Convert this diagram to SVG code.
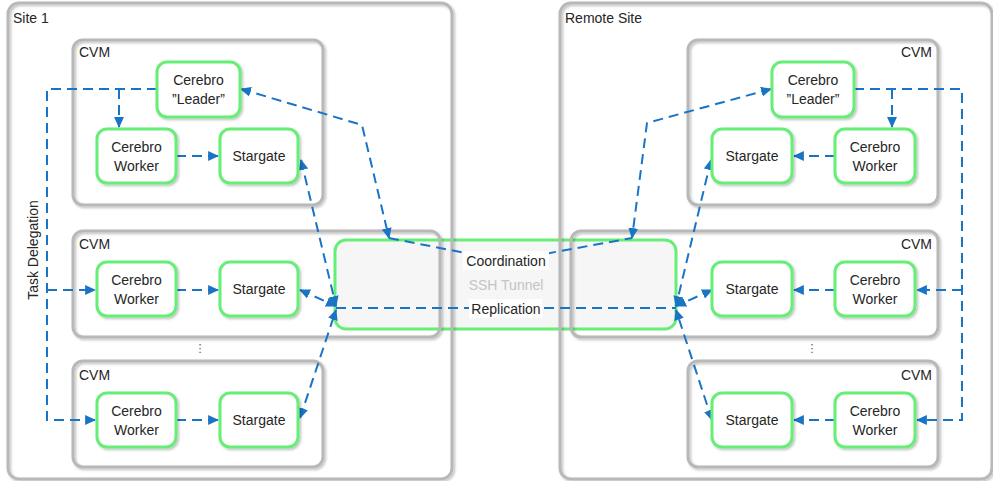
<svg xmlns="http://www.w3.org/2000/svg" width="993" height="481" viewBox="0 0 993 481">
<style>
text{font-family:"Liberation Sans",Arial,sans-serif;font-size:14px;fill:#262626}
.site{fill:none;stroke:#b8b8b8;stroke-width:3}
.cvm{fill:none;stroke:#b8b8b8;stroke-width:3}
.node{fill:#fff;stroke:#66ee77;stroke-width:3}
.tun{fill:#f6f6f6;stroke:#66ee77;stroke-width:3}
.c{fill:none;stroke:#1a74c6;stroke-width:2;stroke-dasharray:10 6}
.m{text-anchor:middle}
.e{text-anchor:end}
</style>
<defs>
<marker id="ah" viewBox="0 0 10 10" refX="9" refY="5" markerWidth="11" markerHeight="11" markerUnits="userSpaceOnUse" orient="auto-start-reverse">
<path d="M0,0.5 L10,5 L0,9.5 Z" fill="#1a74c6"/>
</marker>
<filter id="sh" x="-10%" y="-10%" width="120%" height="120%">
<feDropShadow dx="1.5" dy="1.5" stdDeviation="1" flood-color="#000" flood-opacity="0.25"/>
</filter>
</defs>
<rect width="993" height="481" fill="#fff"/>

<g id="tunnel">
<rect class="tun" x="335" y="240" width="341" height="89" rx="11"/>
</g>

<g id="site1">
<rect class="site" x="8" y="3" width="444" height="476" rx="11" filter="url(#sh)"/>
<text x="13" y="23">Site 1</text>
</g>
<g id="remote-site">
<rect class="site" x="560" y="3" width="432" height="476" rx="11" filter="url(#sh)"/>
<text x="565" y="23">Remote Site</text>
</g>

<g id="cvm-s1-1"><rect class="cvm" x="73" y="40" width="250" height="165" rx="10" filter="url(#sh)"/><text x="79" y="57">CVM</text></g>
<g id="cvm-s1-2"><rect class="cvm" x="73" y="231" width="367" height="106" rx="10" filter="url(#sh)"/><text x="79" y="249">CVM</text></g>
<g id="cvm-s1-3"><rect class="cvm" x="73" y="361" width="250" height="106" rx="10" filter="url(#sh)"/><text x="79" y="380">CVM</text></g>
<g id="cvm-r-1"><rect class="cvm" x="688" y="40" width="250" height="165" rx="10" filter="url(#sh)"/><text class="e" x="932" y="57">CVM</text></g>
<g id="cvm-r-2"><rect class="cvm" x="571" y="231" width="367" height="106" rx="10" filter="url(#sh)"/><text class="e" x="932" y="249">CVM</text></g>
<g id="cvm-r-3"><rect class="cvm" x="688" y="361" width="250" height="106" rx="10" filter="url(#sh)"/><text class="e" x="932" y="380">CVM</text></g>

<text x="200" y="352" class="m" style="font-family:'DejaVu Sans',sans-serif;font-size:11px;fill:#555">⋮</text>
<text x="812" y="352" class="m" style="font-family:'DejaVu Sans',sans-serif;font-size:11px;fill:#555">⋮</text>

<g id="connectors">
<!-- site 1 task delegation -->
<path class="c" d="M157,89 H47 V420 H95" marker-end="url(#ah)"/>
<path class="c" d="M47,290 H95" marker-end="url(#ah)"/>
<path class="c" d="M119,89 V127" marker-end="url(#ah)"/>
<path class="c" d="M176,156 H218" marker-end="url(#ah)"/>
<path class="c" d="M176,290 H218" marker-end="url(#ah)"/>
<path class="c" d="M176,420 H218" marker-end="url(#ah)"/>
<!-- remote task delegation -->
<path class="c" d="M854,89 H962 V420 H917" marker-end="url(#ah)"/>
<path class="c" d="M962,290 H917" marker-end="url(#ah)"/>
<path class="c" d="M892,89 V127" marker-end="url(#ah)"/>
<path class="c" d="M835,156 H794" marker-end="url(#ah)"/>
<path class="c" d="M835,290 H794" marker-end="url(#ah)"/>
<path class="c" d="M835,420 H794" marker-end="url(#ah)"/>
<!-- replication -->
<path class="c" d="M301,160 L336,306" marker-start="url(#ah)" marker-end="url(#ah)"/>
<path class="c" d="M300,290 L336,306" marker-start="url(#ah)" marker-end="url(#ah)"/>
<path class="c" d="M300,418 L336,310" marker-start="url(#ah)" marker-end="url(#ah)"/>
<path class="c" d="M711,160 L676,306" marker-start="url(#ah)" marker-end="url(#ah)"/>
<path class="c" d="M712,290 L676,306" marker-start="url(#ah)" marker-end="url(#ah)"/>
<path class="c" d="M712,420 L676,310" marker-start="url(#ah)" marker-end="url(#ah)"/>
<path class="c" d="M336,308 H676"/>
<!-- coordination -->
<path class="c" d="M241,89 L362,125 L389,238" marker-start="url(#ah)" marker-end="url(#ah)"/>
<path class="c" d="M771,89 L647,123 L632,238" marker-start="url(#ah)" marker-end="url(#ah)"/>
<path class="c" d="M389,238 L506,261 L632,238"/>
</g>

<g id="labels">
<rect x="463" y="251" width="86" height="19" fill="#fff"/>
<text class="m" x="506" y="266">Coordination</text>
<text class="m" x="506" y="290" style="fill:#c4c4c4">SSH Tunnel</text>
<rect x="469" y="299" width="73" height="19" fill="#fff"/>
<text class="m" x="506" y="314">Replication</text>
<text class="m" transform="translate(38,250) rotate(-90)">Task Delegation</text>
</g>

<g id="leader-s1"><rect class="node" x="157" y="62" width="83" height="55" rx="10" filter="url(#sh)"/><text class="m" x="198.5" y="85">Cerebro</text><text class="m" x="198.5" y="104">”Leader”</text></g>
<g id="worker-s1-1"><rect class="node" x="97" y="129" width="79" height="54" rx="10" filter="url(#sh)"/><text class="m" x="136.5" y="152">Cerebro</text><text class="m" x="136.5" y="171">Worker</text></g>
<g id="stargate-s1-1"><rect class="node" x="220" y="129" width="78" height="54" rx="10" filter="url(#sh)"/><text class="m" x="259" y="161">Stargate</text></g>
<g id="worker-s1-2"><rect class="node" x="97" y="262" width="79" height="54" rx="10" filter="url(#sh)"/><text class="m" x="136.5" y="285">Cerebro</text><text class="m" x="136.5" y="304">Worker</text></g>
<g id="stargate-s1-2"><rect class="node" x="220" y="262" width="78" height="54" rx="10" filter="url(#sh)"/><text class="m" x="259" y="294">Stargate</text></g>
<g id="worker-s1-3"><rect class="node" x="97" y="393" width="79" height="54" rx="10" filter="url(#sh)"/><text class="m" x="136.5" y="416">Cerebro</text><text class="m" x="136.5" y="435">Worker</text></g>
<g id="stargate-s1-3"><rect class="node" x="220" y="393" width="78" height="54" rx="10" filter="url(#sh)"/><text class="m" x="259" y="425">Stargate</text></g>

<g id="leader-r"><rect class="node" x="772" y="62" width="82" height="55" rx="10" filter="url(#sh)"/><text class="m" x="813" y="85">Cerebro</text><text class="m" x="813" y="104">”Leader”</text></g>
<g id="stargate-r-1"><rect class="node" x="712" y="129" width="80" height="54" rx="10" filter="url(#sh)"/><text class="m" x="752" y="161">Stargate</text></g>
<g id="worker-r-1"><rect class="node" x="835" y="129" width="80" height="54" rx="10" filter="url(#sh)"/><text class="m" x="875" y="152">Cerebro</text><text class="m" x="875" y="171">Worker</text></g>
<g id="stargate-r-2"><rect class="node" x="712" y="262" width="80" height="54" rx="10" filter="url(#sh)"/><text class="m" x="752" y="294">Stargate</text></g>
<g id="worker-r-2"><rect class="node" x="835" y="262" width="80" height="54" rx="10" filter="url(#sh)"/><text class="m" x="875" y="285">Cerebro</text><text class="m" x="875" y="304">Worker</text></g>
<g id="stargate-r-3"><rect class="node" x="712" y="393" width="80" height="54" rx="10" filter="url(#sh)"/><text class="m" x="752" y="425">Stargate</text></g>
<g id="worker-r-3"><rect class="node" x="835" y="393" width="80" height="54" rx="10" filter="url(#sh)"/><text class="m" x="875" y="416">Cerebro</text><text class="m" x="875" y="435">Worker</text></g>
</svg>
